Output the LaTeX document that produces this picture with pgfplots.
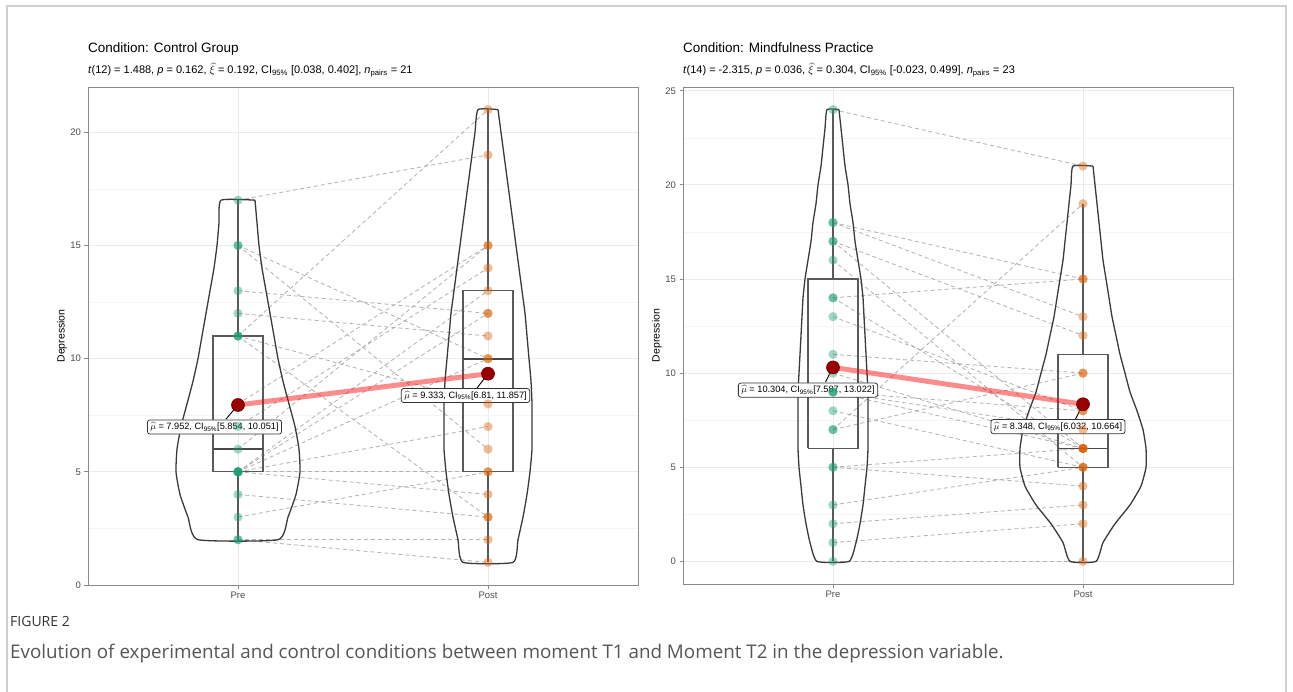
\documentclass[border=0pt]{standalone}
\usepackage{pgfplots}
\pgfplotsset{compat=1.18}
\usepackage{fontspec}
\setmainfont{Liberation Sans}
\newfontfamily\capfont{Open Sans}
\definecolor{pre}{HTML}{1B9E77}
\definecolor{post}{HTML}{D95F02}
\definecolor{pairc}{HTML}{A6A6A6}
\definecolor{violc}{HTML}{3A3A3A}
\definecolor{boxc}{HTML}{5A5A5A}
\definecolor{meanc}{HTML}{9A0000}
\definecolor{meand}{HTML}{6A0000}
\definecolor{gridmaj}{HTML}{EBEBEB}
\definecolor{gridmin}{HTML}{F5F5F5}
\definecolor{axisc}{HTML}{8A8A8A}
\definecolor{tickc}{HTML}{4D4D4D}
\definecolor{framec}{HTML}{CFCFCF}
\definecolor{capc}{HTML}{555555}
\pgfplotsset{
  panel/.style={
    scale only axis, width=550pt,
    xmin=0.4, xmax=2.6,
    xtick={1,2}, xticklabels={Pre,Post},
    grid=both,
    major grid style={draw=gridmaj, line width=0.8pt},
    minor grid style={draw=gridmin, line width=0.5pt},
    axis line style={draw=axisc, line width=0.9pt},
    major tick style={draw=axisc, line width=0.8pt},
    tick align=outside, major tick length=3.5pt, minor tick length=0pt,
    xtick pos=bottom, ytick pos=left,
    tick label style={font=\fontsize{9.5}{11}\selectfont, text=tickc},
    /pgf/number format/assume math mode=true,
    ylabel={Depression},
    every axis y label/.style={at={(axis description cs:0,0.5)}, xshift=-26pt, rotate=90, anchor=center, font=\fontsize{10.5}{12}\selectfont},
  },
  pair/.style={draw=pairc, line width=0.85pt, dash pattern=on 4pt off 3pt, opacity=0.85},
  viol/.style={draw=violc, line width=1.3pt, smooth, tension=0.3},
  bx/.style={draw=boxc, line width=1.1pt},
  med/.style={draw=boxc!80!black, line width=1.9pt},
  dpre/.style={only marks, mark=*, mark size=4.6pt, color=pre, mark options={fill=pre, fill opacity=0.42, draw opacity=0}},
  dpost/.style={only marks, mark=*, mark size=4.6pt, color=post, mark options={fill=post, fill opacity=0.42, draw opacity=0}},
  mline/.style={draw=red, line width=5pt, opacity=0.45},
  mdot/.style={only marks, mark=*, mark size=6.5pt, color=meanc, mark options={fill=meanc, draw=meand, line width=0.6pt}},
}
\tikzset{lbl/.style={draw=black!80, line width=0.8pt, fill=white, rounded corners=2.5pt, inner xsep=3pt, inner ysep=2.5pt, font=\fontsize{9.2}{10.5}\selectfont}}
\begin{document}
\begin{tikzpicture}
\useasboundingbox (0pt,0pt) rectangle (1293pt,691pt);
\draw[draw=framec, line width=1.2pt] (7pt,-5pt) -- (7pt,685pt) -- (1286pt,685pt) -- (1286pt,-5pt);

% ---------------- Left panel ----------------
\begin{axis}[panel, at={(88pt,106pt)}, anchor=south west, height=498pt,
  ymin=0, ymax=22, ytick={0,5,10,15,20}, minor ytick={2.5,7.5,12.5,17.5}]
\addplot[pair] coordinates {(1,17) (2,19)};
\addplot[pair] coordinates {(1,15) (2,10)};
\addplot[pair] coordinates {(1,15) (2,6)};
\addplot[pair] coordinates {(1,13) (2,12)};
\addplot[pair] coordinates {(1,12) (2,11)};
\addplot[pair] coordinates {(1,11) (2,21)};
\addplot[pair] coordinates {(1,11) (2,8)};
\addplot[pair] coordinates {(1,11) (2,3)};
\addplot[pair] coordinates {(1,8) (2,15)};
\addplot[pair] coordinates {(1,7) (2,14)};
\addplot[pair] coordinates {(1,6) (2,15)};
\addplot[pair] coordinates {(1,5) (2,13)};
\addplot[pair] coordinates {(1,5) (2,12)};
\addplot[pair] coordinates {(1,5) (2,10)};
\addplot[pair] coordinates {(1,5) (2,5)};
\addplot[pair] coordinates {(1,5) (2,4)};
\addplot[pair] coordinates {(1,5) (2,7)};
\addplot[pair] coordinates {(1,4) (2,3)};
\addplot[pair] coordinates {(1,3) (2,5)};
\addplot[pair] coordinates {(1,2) (2,2)};
\addplot[pair] coordinates {(1,2) (2,1)};
\addplot[viol] coordinates {(1.068,17) (1.076,16) (1.084,15) (1.096,14) (1.112,13) (1.128,12) (1.144,11) (1.160,10) (1.180,9) (1.204,8) (1.228,7) (1.244,6) (1.248,5) (1.232,4) (1.200,3) (1.160,2) (0.840,2) (0.800,3) (0.768,4) (0.752,5) (0.756,6) (0.772,7) (0.796,8) (0.820,9) (0.840,10) (0.856,11) (0.872,12) (0.888,13) (0.904,14) (0.916,15) (0.924,16) (0.932,17) (1.068,17)};
\addplot[viol] coordinates {(2.040,21) (2.052,20) (2.064,19) (2.076,18) (2.088,17) (2.100,16) (2.112,15) (2.124,14) (2.136,13) (2.148,12) (2.156,11) (2.164,10) (2.172,9) (2.176,8) (2.176,7) (2.176,6) (2.168,5) (2.156,4) (2.140,3) (2.120,2) (2.100,1) (1.900,1) (1.880,2) (1.860,3) (1.844,4) (1.832,5) (1.824,6) (1.824,7) (1.824,8) (1.828,9) (1.836,10) (1.844,11) (1.852,12) (1.864,13) (1.876,14) (1.888,15) (1.900,16) (1.912,17) (1.924,18) (1.936,19) (1.948,20) (1.960,21) (2.040,21)};
% boxes (Pre: 2 / 5 / 6 / 11 / 17 ; Post: 1 / 5 / 10 / 13 / 21)
\addplot[bx] coordinates {(0.9,5) (1.1,5) (1.1,11) (0.9,11) (0.9,5)};
\addplot[bx] coordinates {(1,11) (1,17)};
\addplot[bx] coordinates {(1,2) (1,5)};
\addplot[med] coordinates {(0.9,6) (1.1,6)};
\addplot[bx] coordinates {(1.9,5) (2.1,5) (2.1,13) (1.9,13) (1.9,5)};
\addplot[bx] coordinates {(2,13) (2,21)};
\addplot[bx] coordinates {(2,1) (2,5)};
\addplot[med] coordinates {(1.9,10) (2.1,10)};
\addplot[dpre] coordinates {(1,2) (1,2) (1,3) (1,4) (1,5) (1,5) (1,5) (1,5) (1,5) (1,5) (1,6) (1,7) (1,8) (1,11) (1,11) (1,11) (1,12) (1,13) (1,15) (1,15) (1,17)};
\addplot[dpost] coordinates {(2,1) (2,2) (2,3) (2,3) (2,4) (2,5) (2,5) (2,6) (2,7) (2,8) (2,10) (2,10) (2,11) (2,12) (2,12) (2,13) (2,14) (2,15) (2,15) (2,19) (2,21)};
\addplot[mline] coordinates {(1,7.952) (2,9.333)};
\draw[line width=0.9pt] (axis cs:1,7.952) -- (axis cs:0.952,7.33);
\draw[line width=0.9pt] (axis cs:2,9.333) -- (axis cs:1.956,8.70);
\addplot[mdot] coordinates {(1,7.952) (2,9.333)};
\node[lbl] at (axis cs:0.906,6.98) {$\widehat{\mu}$ = 7.952, CI\textsubscript{95\%}[5.854, 10.051]};
\node[lbl] at (axis cs:1.91,8.37) {$\widehat{\mu}$ = 9.333, CI\textsubscript{95\%}[6.81, 11.857]};
\end{axis}

% ---------------- Right panel ----------------
\begin{axis}[panel, at={(683pt,107pt)}, anchor=south west, height=497pt,
  ymin=-1.2, ymax=25.2, ytick={0,5,10,15,20,25}, minor ytick={2.5,7.5,12.5,17.5,22.5}]
\addplot[pair] coordinates {(1,24) (2,21)};
\addplot[pair] coordinates {(1,18) (2,15)};
\addplot[pair] coordinates {(1,18) (2,13)};
\addplot[pair] coordinates {(1,17) (2,6)};
\addplot[pair] coordinates {(1,17) (2,12)};
\addplot[pair] coordinates {(1,16) (2,5)};
\addplot[pair] coordinates {(1,14) (2,15)};
\addplot[pair] coordinates {(1,14) (2,6)};
\addplot[pair] coordinates {(1,13) (2,8)};
\addplot[pair] coordinates {(1,11) (2,10)};
\addplot[pair] coordinates {(1,10) (2,6)};
\addplot[pair] coordinates {(1,9) (2,8)};
\addplot[pair] coordinates {(1,9) (2,7)};
\addplot[pair] coordinates {(1,9) (2,6)};
\addplot[pair] coordinates {(1,8) (2,5)};
\addplot[pair] coordinates {(1,7) (2,19)};
\addplot[pair] coordinates {(1,7) (2,10)};
\addplot[pair] coordinates {(1,5) (2,6)};
\addplot[pair] coordinates {(1,5) (2,4)};
\addplot[pair] coordinates {(1,3) (2,5)};
\addplot[pair] coordinates {(1,2) (2,3)};
\addplot[pair] coordinates {(1,1) (2,2)};
\addplot[pair] coordinates {(1,0) (2,0)};
\addplot[viol] coordinates {(1.024,24) (1.032,23) (1.040,22) (1.048,21) (1.060,20) (1.068,19) (1.080,18) (1.088,17) (1.100,16) (1.112,15) (1.120,14) (1.124,13) (1.128,12) (1.132,11) (1.136,10) (1.140,9) (1.140,8) (1.140,7) (1.140,6) (1.136,5) (1.128,4) (1.120,3) (1.108,2) (1.092,1) (1.064,0) (0.936,0) (0.908,1) (0.892,2) (0.880,3) (0.872,4) (0.864,5) (0.860,6) (0.860,7) (0.860,8) (0.860,9) (0.864,10) (0.868,11) (0.872,12) (0.876,13) (0.880,14) (0.888,15) (0.900,16) (0.912,17) (0.920,18) (0.932,19) (0.940,20) (0.952,21) (0.960,22) (0.968,23) (0.976,24) (1.024,24)};
\addplot[viol] coordinates {(2.040,21) (2.048,20) (2.056,19) (2.064,18) (2.072,17) (2.080,16) (2.092,15) (2.104,14) (2.116,13) (2.132,12) (2.148,11) (2.168,10) (2.188,9) (2.216,8) (2.240,7) (2.252,6) (2.252,5) (2.232,4) (2.188,3) (2.128,2) (2.080,1) (2.052,0) (1.948,0) (1.920,1) (1.872,2) (1.812,3) (1.768,4) (1.748,5) (1.748,6) (1.760,7) (1.784,8) (1.812,9) (1.832,10) (1.852,11) (1.868,12) (1.884,13) (1.896,14) (1.908,15) (1.920,16) (1.928,17) (1.936,18) (1.944,19) (1.952,20) (1.960,21) (2.040,21)};
% boxes (Pre: 0 / 6 / 9 / 15 / 24 ; Post: 0 / 5 / 6 / 11 / 19)
\addplot[bx] coordinates {(0.9,6) (1.1,6) (1.1,15) (0.9,15) (0.9,6)};
\addplot[bx] coordinates {(1,15) (1,24)};
\addplot[bx] coordinates {(1,0) (1,6)};
\addplot[med] coordinates {(0.9,9) (1.1,9)};
\addplot[bx] coordinates {(1.9,5) (2.1,5) (2.1,11) (1.9,11) (1.9,5)};
\addplot[bx] coordinates {(2,11) (2,19)};
\addplot[bx] coordinates {(2,0) (2,5)};
\addplot[med] coordinates {(1.9,6) (2.1,6)};
\addplot[dpre] coordinates {(1,0) (1,1) (1,2) (1,3) (1,5) (1,5) (1,7) (1,7) (1,8) (1,9) (1,9) (1,9) (1,10) (1,11) (1,13) (1,14) (1,14) (1,16) (1,17) (1,17) (1,18) (1,18) (1,24)};
\addplot[dpost] coordinates {(2,0) (2,2) (2,3) (2,4) (2,5) (2,5) (2,5) (2,6) (2,6) (2,6) (2,6) (2,6) (2,7) (2,8) (2,8) (2,10) (2,10) (2,12) (2,13) (2,15) (2,15) (2,19) (2,21)};
\addplot[mline] coordinates {(1,10.304) (2,8.348)};
\draw[line width=0.9pt] (axis cs:1,10.304) -- (axis cs:0.97,9.53);
\draw[line width=0.9pt] (axis cs:2,8.348) -- (axis cs:1.97,7.56);
\addplot[mdot] coordinates {(1,10.304) (2,8.348)};
\node[lbl] at (axis cs:0.90,9.10) {$\widehat{\mu}$ = 10.304, CI\textsubscript{95\%}[7.587, 13.022]};
\node[lbl] at (axis cs:1.90,7.16) {$\widehat{\mu}$ = 8.348, CI\textsubscript{95\%}[6.032, 10.664]};
\end{axis}

\node[anchor=base west, font=\fontsize{13.5}{15}\selectfont, inner sep=0pt] at (88pt,638pt) {Condition: Control Group};
\node[anchor=base west, font=\fontsize{11}{13}\selectfont, inner sep=0pt] at (88pt,617pt) {\textit{t}(12) = 1.488, \textit{p} = 0.162, $\widehat{\xi}$ = 0.192, CI\textsubscript{95\%} [0.038, 0.402], \textit{n}\textsubscript{pairs} = 21};
\node[anchor=base west, font=\fontsize{13.5}{15}\selectfont, inner sep=0pt] at (683pt,638pt) {Condition: Mindfulness Practice};
\node[anchor=base west, font=\fontsize{11}{13}\selectfont, inner sep=0pt] at (683pt,617pt) {\textit{t}(14) = -2.315, \textit{p} = 0.036, $\widehat{\xi}$ = 0.304, CI\textsubscript{95\%} [-0.023, 0.499], \textit{n}\textsubscript{pairs} = 23};
\node[anchor=west, font=\capfont\fontsize{14}{16}\selectfont, text=black!80, inner sep=0pt] at (10pt,70pt) {FIGURE 2};
\node[anchor=west, font=\capfont\fontsize{18.8}{21}\selectfont, text=capc, inner sep=0pt] at (10pt,37pt) {Evolution of experimental and control conditions between moment T1 and Moment T2 in the depression variable.};
\end{tikzpicture}
\end{document}
